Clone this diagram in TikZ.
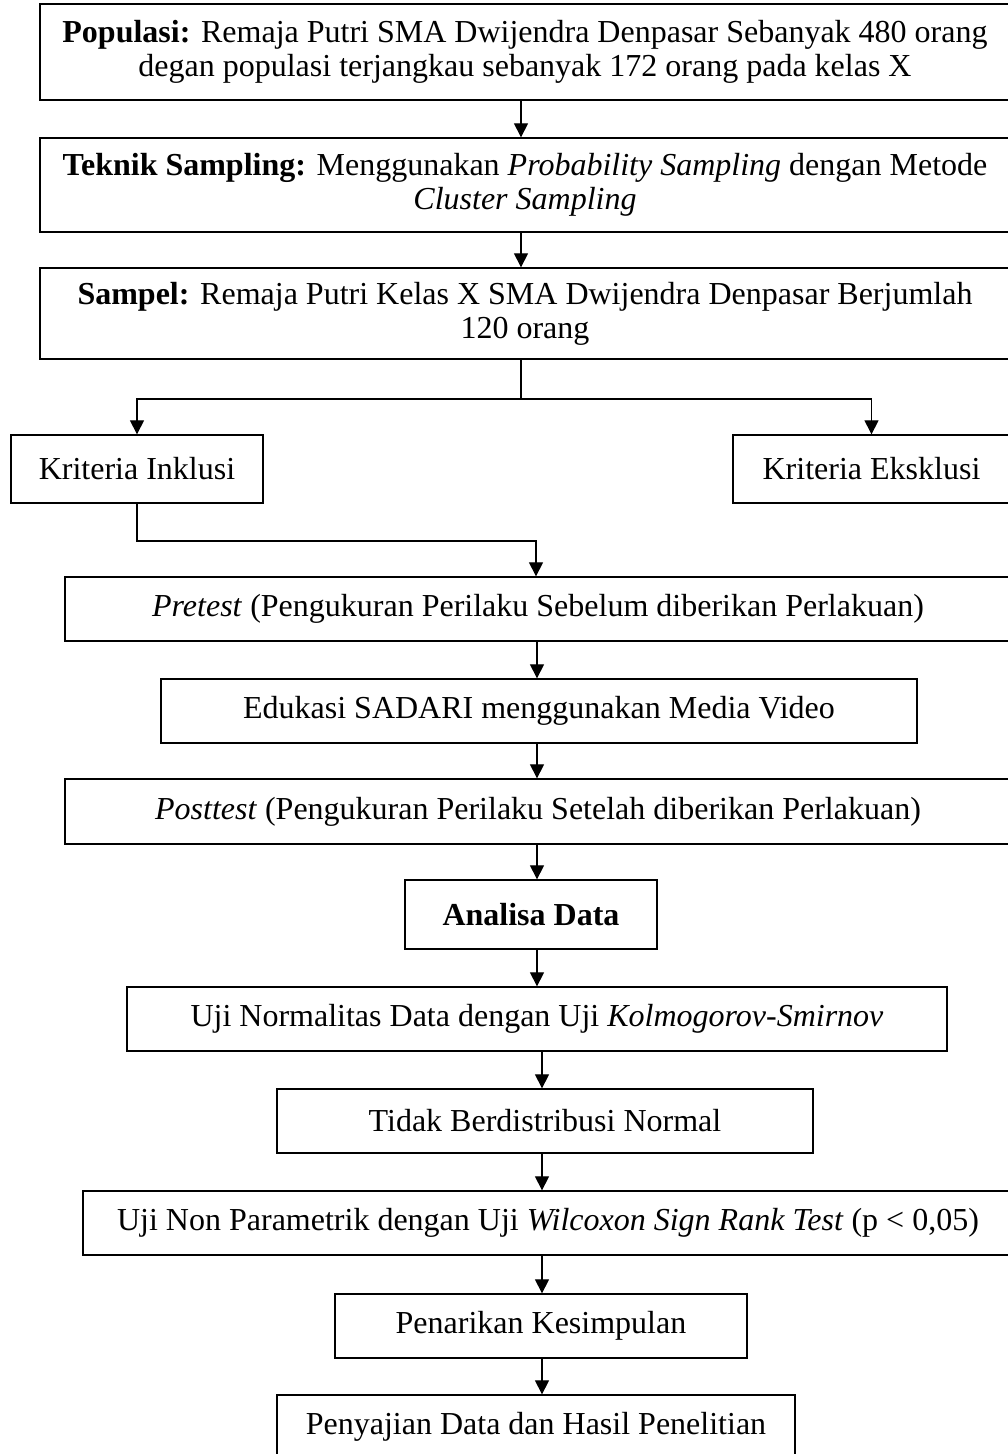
\documentclass[tikz,border=0pt]{standalone}
\usepackage{fontspec}
\setmainfont{Liberation Serif}
\usetikzlibrary{arrows.meta}
\begin{document}
\begin{tikzpicture}[x=1pt,y=-1pt,
  box/.style={draw, line width=1.3pt, inner sep=0pt, align=center,
    font=\fontsize{32}{34}\selectfont},
  conn/.style={line width=1.1pt},
  arr/.style={conn, -{Triangle[length=14pt,width=14pt]}}]
\useasboundingbox (0,0) rectangle (1008,1454);
\clip (0,0) rectangle (1008,1454);
\fill[white] (0,0) rectangle (1008,1454);
% boxes
\node[box, minimum width=970pt, minimum height=96pt] (pop) at (525,52)
  {\textbf{Populasi:} Remaja Putri SMA Dwijendra Denpasar Sebanyak 480 orang\\
   degan populasi terjangkau sebanyak 172 orang pada kelas X};
\node[box, minimum width=970pt, minimum height=94pt] (tek) at (525,185)
  {\textbf{Teknik Sampling:} Menggunakan \textit{Probability Sampling} dengan Metode\\
   \textit{Cluster Sampling}};
\node[box, minimum width=970pt, minimum height=91pt] (sam) at (525,313.5)
  {\textbf{Sampel:} Remaja Putri Kelas X SMA Dwijendra Denpasar Berjumlah\\
   120 orang};
\node[box, minimum width=252pt, minimum height=68pt] (ink) at (137,469)
  {Kriteria Inklusi};
\node[box, minimum width=277pt, minimum height=68pt] (eks) at (871.5,469)
  {Kriteria Eksklusi};
\node[box, minimum width=946pt, minimum height=64pt] (pre) at (538,609)
  {\textit{Pretest} (Pengukuran Perilaku Sebelum diberikan Perlakuan)};
\node[box, minimum width=756pt, minimum height=64pt] (edu) at (539,711)
  {Edukasi SADARI menggunakan Media Video};
\node[box, minimum width=946pt, minimum height=65pt] (post) at (538,811.5)
  {\textit{Posttest} (Pengukuran Perilaku Setelah diberikan Perlakuan)};
\node[box, minimum width=252pt, minimum height=69pt] (ana) at (531,914.5)
  {\textbf{Analisa Data}};
\node[box, minimum width=820pt, minimum height=64pt] (norm) at (537,1019)
  {Uji Normalitas Data dengan Uji \textit{Kolmogorov-Smirnov}};
\node[box, minimum width=536pt, minimum height=64pt] (tid) at (545,1121)
  {Tidak Berdistribusi Normal};
\node[box, minimum width=930pt, minimum height=64pt] (uji) at (548,1223)
  {Uji Non Parametrik dengan Uji \textit{Wilcoxon Sign Rank Test} (p < 0,05)};
\node[box, minimum width=412pt, minimum height=64pt] (pen) at (541,1326)
  {Penarikan Kesimpulan};
\node[box, minimum width=518pt, minimum height=64pt] (saj) at (536,1427)
  {Penyajian Data dan Hasil Penelitian};
% connector guide coordinates
\coordinate (xa) at (521,0);
\coordinate (xb) at (537,0);
\coordinate (xc) at (542,0);
\coordinate (split) at (521,399);
\coordinate (join) at (536,541);
% connectors
\draw[arr] (pop.south -| xa) -- (tek.north -| xa);
\draw[arr] (tek.south -| xa) -- (sam.north -| xa);
\draw[conn] (sam.south -| xa) -- (split);
\draw[arr] (split) -| (ink.north);
\draw[arr] (split) -| (eks.north);
\draw[arr] (ink.south) -- (ink.south |- join) -- (join) -- (pre.north -| join);
\draw[arr] (pre.south -| xb) -- (edu.north -| xb);
\draw[arr] (edu.south -| xb) -- (post.north -| xb);
\draw[arr] (post.south -| xb) -- (ana.north -| xb);
\draw[arr] (ana.south -| xb) -- (norm.north -| xb);
\draw[arr] (norm.south -| xc) -- (tid.north -| xc);
\draw[arr] (tid.south -| xc) -- (uji.north -| xc);
\draw[arr] (uji.south -| xc) -- (pen.north -| xc);
\draw[arr] (pen.south -| xc) -- (saj.north -| xc);
\end{tikzpicture}
\end{document}
